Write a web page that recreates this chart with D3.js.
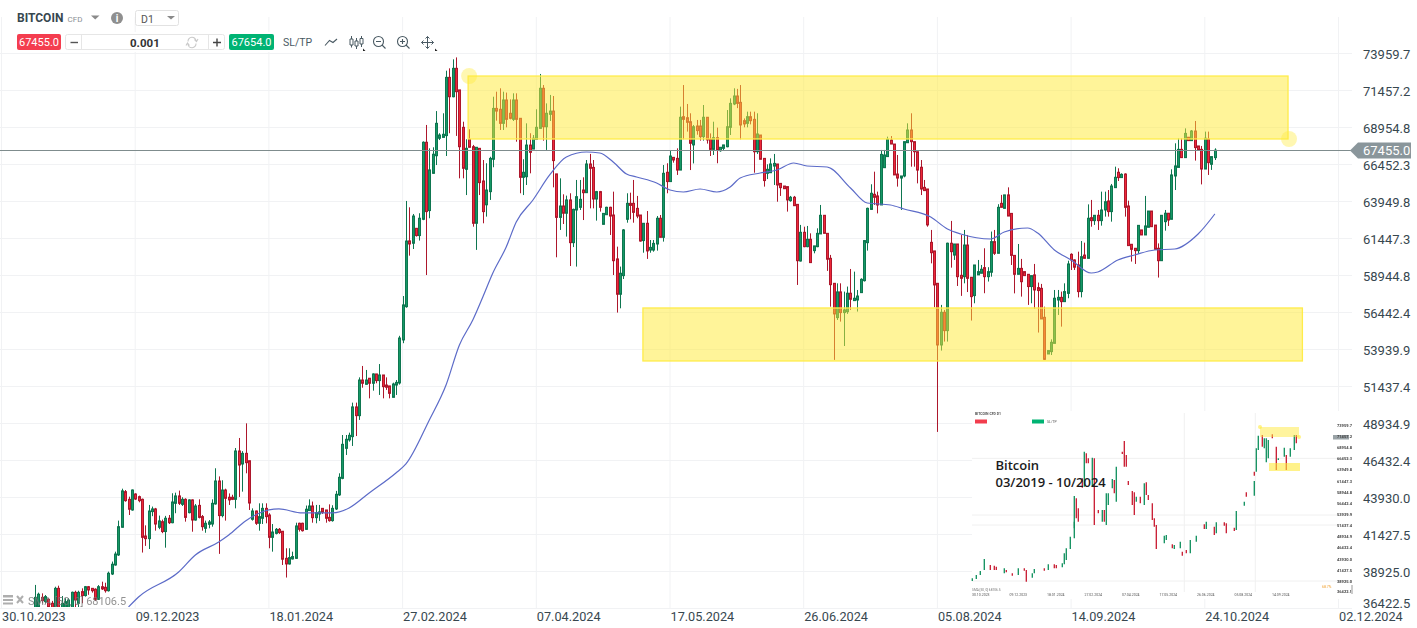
<!DOCTYPE html>
<html>
<head>
<meta charset="utf-8">
<title>BITCOIN D1</title>
<script src="https://cdn.jsdelivr.net/npm/d3@7"></script>
<style>
  html, body { margin: 0; padding: 0; background: #fff; overflow: hidden; }
  svg { display: block; font-family: Roboto, sans-serif; }
  .axis text { font-family: Roboto, sans-serif; font-size: 13px; fill: #37474f; }
  .axis.dates text { font-size: 12.7px; }
  .axis path, .axis line { display: none; }
</style>
</head>
<body>
<div id="chart"></div>
<script>
// daily candles, first one sits on bar 10 (09.11.2023)
const firstBar = 10;
const opens = [
  36470,36540,37210,36920,37080,36810,36540,37820,36130,36360,
  36470,36470,37550,36810,37600,37330,37930,37820,37760,37080,
  37930,37890,37660,38790,39400,40080,41950,44360,43840,43120,
  44200,44020,43840,41360,41180,43010,43190,41950,42330,41660,
  42560,42260,43570,44070,43500,43840,42940,43800,42440,43430,
  42670,41880,42150,42170,43530,45080,42740,44470,43980,43980,
  43840,47110,46230,46950,46450,42490,43050,42220,42560,43230,
  42780,41270,41540,41810,41680,39850,39470,39810,39850,42220,
  42220,41810,43080,43390,42600,42850,43230,43120,42620,42400,
  43190,44140,45260,47290,47860,48080,50090,49500,51910,51620,
  52030,51690,52320,51870,52250,51570,51510,50740,51570,51710,
  54620,56870,61320,61160,62170,61680,62780,67990,63370,65890,
  67080,68260,68320,68440,72380,71070,72990,71530,69000,66160,
  68190,67690,62510,67580,65370,63760,64650,66840,70280,70220,
  69270,70850,69950,69540,70850,69610,65620,65660,67800,67530,
  68190,68930,71640,69040,69880,70100,65850,62910,63680,63190,
  64090,61200,63410,63590,64760,64580,66520,66290,64150,64650,
  62440,63090,63590,63070,60100,57710,58970,62780,63860,63860,
  63520,63070,61340,62510,60700,60700,61110,62850,61560,65960,
  65330,66970,66900,66110,69720,69650,69380,67810,69090,69090,
  68370,69680,68190,67510,68300,67420,67580,67690,69000,70580,
  71120,70690,69450,69270,69720,69540,67350,68480,66900,65890,
  65930,66380,66520,65210,65030,64990,64040,64270,63790,59960,
  61900,60930,61430,60660,60930,61790,63050,61830,60140,58450,
  56130,57870,56470,56530,57780,57280,57320,57820,58630,61200,
  63450,64470,64360,63750,66270,67020,68140,67870,65840,65570,
  65710,67960,68820,68030,67350,66300,64940,64830,61220,60640,
  58450,54280,56490,55250,61160,60360,61110,58990,58900,61040,
  58860,57620,59020,59130,59510,58900,59200,61270,60480,63860,
  63520,64430,63180,60340,59060,59460,59240,59060,58230,59020,
  58160,58110,56150,53670,53830,54390,57320,57500,57210,57770,
  60410,60030,59690,57890,60360,60140,62890,62690,63050,62690,
  63410,64020,63300,64920,65960,65600,65840,63680,61090,60820,
  60660,62060,61720,62240,63340,62390,60820,59980,62620,63190,
  62780,65710,66290,67510,66950,68330,68100,68750,67740,67510,
  66180,68210,66500,66950
];
const closes = [
  37210,37420,36990,37260,36540,36130,37820,36130,36810,36920,
  37030,37550,37030,37550,37330,37930,37710,37660,37080,37930,
  37780,37660,38840,39450,40140,41990,44410,43750,43170,44470,
  43860,43750,41270,41180,43050,43190,42170,42380,41660,42560,
  42260,43660,44070,43570,43840,42620,43800,42440,43390,42620,
  41990,42220,42310,43570,45080,42740,44470,43910,43800,43840,
  47110,46160,46950,46320,43590,43050,42220,42670,43230,42670,
  41270,41630,41810,41590,39790,39470,39900,39970,42040,41810,
  41720,43170,43390,42600,42940,42990,42960,42560,42400,43230,
  44180,45330,47560,47900,48170,50090,49500,51910,51690,51910,
  51690,52320,51870,52250,51460,51420,51010,51640,51750,54750,
  56990,61310,61110,63000,61680,62850,67990,63300,66120,67180,
  69270,68480,68530,72380,71070,72990,71410,67690,66230,67580,
  67650,62510,67650,65260,63300,64760,66900,70280,70100,69270,
  70850,69540,69610,70850,69540,65620,65960,67800,67310,68260,
  69000,71640,69040,69950,70100,66750,62910,63680,63190,64090,
  61200,63450,64310,64130,64580,66520,66230,64150,64650,63590,
  63180,63590,63000,59980,57710,59130,62060,63860,63720,63250,
  63000,61310,62510,60640,60880,61150,62850,61560,65890,65330,
  67060,66790,66110,69680,69540,69340,67920,69040,68780,68370,
  69680,68150,67510,68300,67470,67650,67810,69040,70620,71120,
  70620,69160,69230,69720,69450,67350,68550,66840,65400,66160,
  66520,66560,65100,64920,64850,64090,64270,63700,59980,61900,
  60930,61430,59850,60980,61830,63050,61830,60080,58360,56380,
  57870,56470,56650,57780,57370,57440,57590,58720,61340,63520,
  64540,64270,63750,67170,67130,68190,67870,65780,65570,65710,
  68030,68820,68030,67350,66110,64830,64720,62400,60520,58340,
  54280,56490,55250,61160,60590,61110,58900,58790,61040,58790,
  57550,59690,59240,59400,58900,59240,61270,60480,63590,63590,
  64430,63000,60340,59060,59460,58560,58970,58230,58970,58000,
  57960,56040,53310,53900,54460,57440,57500,57210,57890,59760,
  60030,59540,57890,60250,60140,62850,62690,63050,62690,63410,
  63970,63300,65030,65620,65600,65820,63590,61000,60750,60660,
  62370,61720,62330,63340,62280,60750,59980,63050,63190,62730,
  65780,66390,67510,66950,68590,68100,68750,67630,67470,66180,
  68260,66610,67020,67455
];
const highs = [
  38050,37530,37480,37370,37150,36970,37930,38000,37300,37150,
  37150,37600,37660,37660,37820,37980,37980,37820,37820,38040,
  38270,38200,38950,39630,40300,42400,44560,44470,44020,44510,
  44250,44090,43890,42080,43460,43350,43260,42740,42470,42720,
  42780,44250,44290,44430,43980,43910,43840,43840,43520,43840,
  42780,42400,42440,43840,45940,45390,45130,44560,44240,44150,
  47310,47990,47100,48980,46450,43230,43080,43570,43570,43570,
  42900,42170,41900,41900,41700,40530,40530,40300,42260,42260,
  42260,43420,43840,43690,43460,43460,43240,43120,43500,43440,
  44410,45600,48190,48190,48350,50380,50380,52090,52860,52590,
  52030,52360,52320,52990,52250,52090,51510,51730,51910,54900,
  57590,64020,63590,63140,62170,63190,68050,69160,67580,67650,
  70100,68600,69950,72830,72990,73600,73730,71530,69380,68190,
  68870,67810,67650,67580,66790,66570,67010,71070,71410,71640,
  71410,71350,70890,71300,71300,69610,66840,69270,68600,68480,
  70220,72610,71860,70620,71190,71120,65850,65550,64470,64380,
  64540,63500,65440,65440,65620,66790,67200,66790,64700,64700,
  63180,63630,63630,64650,60930,59580,62120,64540,64580,65440,
  64360,63070,62510,63340,61380,61380,63000,63070,66450,66570,
  67420,66970,67580,70400,71860,70580,69950,69160,69500,69500,
  70510,69680,68590,69380,68980,67650,67810,70170,70960,71640,
  71600,71860,69600,70060,70060,70060,69950,68480,66900,66500,
  66900,67200,66520,65210,65030,64990,64360,64360,63790,62400,
  62280,62330,61830,60980,62170,63750,63050,61830,60370,58450,
  58450,58450,57890,58230,59420,59240,58000,58790,61380,63570,
  65150,66000,64650,67470,67470,68370,68410,67870,67130,65710,
  68030,69270,69950,68030,67350,66790,65440,64830,62060,60640,
  58450,56990,56650,61200,62670,61110,61110,61720,62060,61720,
  58860,59690,60030,59690,60820,59540,61950,62060,63800,64430,
  64430,64940,63180,60340,61110,60100,59240,59060,58970,59760,
  58500,58410,56870,53900,54660,58000,58000,57890,58450,59980,
  60480,60070,60590,61310,61200,63790,64090,63050,63410,64650,
  64650,64760,65170,66340,66230,65890,65890,64040,61090,60820,
  62370,62060,64360,63340,63340,62390,61150,63050,63410,63190,
  66160,67920,68260,68260,68930,68330,68820,69430,67740,67740,
  68710,68710,67020,67580
];
const lows = [
  36300,36400,36800,36800,36100,35900,36000,35900,35900,35900,
  36000,36000,36470,36400,36810,37260,37380,37530,36960,37030,
  37710,37530,37600,38720,39350,40010,41930,43680,42780,43070,
  43800,43640,40240,40690,40480,42700,41720,41820,41550,40570,
  42170,42220,42900,43460,43390,42330,42890,41650,42400,42550,
  41720,41580,41880,41990,43480,40150,42620,42400,43460,43790,
  43230,44000,44360,45600,43120,42400,42110,41720,42170,42220,
  40530,40300,41470,41500,39400,38550,39430,39770,39810,41660,
  41660,41770,43060,42260,42220,42380,42850,42260,42330,42330,
  43120,44070,45200,46840,47740,47450,48120,49210,51390,51600,
  50670,51190,51690,50900,50670,51240,50670,50740,50900,51600,
  54400,56800,60320,60770,61610,61340,62720,59010,62850,65870,
  66450,68140,68320,67060,68600,71030,68420,65550,65550,64420,
  67650,62280,60710,64420,62510,62960,64090,66300,69450,68820,
  68820,69000,69540,69430,68030,64540,64420,65100,65890,67530,
  68190,68930,68100,67470,69430,64940,60210,62060,62460,61610,
  59620,60900,59580,63410,62730,64580,63520,63520,62690,63300,
  62440,63090,61720,59010,56470,56760,58740,62550,62780,62550,
  62850,61270,60520,60100,60520,60590,60660,61560,61270,64540,
  65330,66610,65780,66110,68190,68710,66110,66560,68500,68100,
  68100,67900,67060,67130,66570,67350,67420,67650,68480,70500,
  70300,68190,69000,69000,69200,65930,67200,66840,64990,65500,
  65930,65100,63970,64360,64850,63300,63970,63700,58340,59920,
  60890,60890,59850,60480,60890,61790,61830,59290,56870,53270,
  55970,55860,54210,56380,56650,57280,56540,57820,58570,60660,
  63410,63750,63180,63750,66270,67020,67870,65780,64990,63410,
  65620,67960,66340,66340,65210,64420,64720,62280,59800,56830,
  48400,53900,54510,54510,59510,60030,58270,57600,58450,57860,
  55930,57100,59020,59130,57780,58570,58900,60370,60480,63590,
  63520,63000,59690,57770,59060,57550,58970,56990,57100,56720,
  55120,56040,53270,53670,53600,54390,56310,55520,57210,57440,
  59350,59350,57500,57500,60140,60140,62280,62400,62060,62350,
  62960,62960,62620,64920,65370,65600,62960,61000,59920,59760,
  60440,61720,61720,62240,62280,60750,58840,59980,62010,62330,
  62780,64760,66290,66950,66950,68100,68100,66750,67470,65140,
  66180,65780,66120,66790
];

const smaBars = [38,41,53,58,65,68,73,80,83,90,99,104,110,118,121,128,133,137,141,144,147,151,154,159,164,169,175,179,183,187,190,196,200,204,209,214,218,221,227,232,237,241,247,254,259,266,270,278,283,287,296,300,307,310,315,320,326,328,334,339,345,351,358,363];
const smaValues = [36561,37237,38928,40077,40957,41430,42377,43121,43188,42918,42918,43256,44270,45623,46232,49207,51574,54280,55970,57526,59149,60907,62598,64086,65777,66994,67332,67265,66656,65844,65642,65236,64762,64627,64830,64627,64965,65574,65912,66115,66588,66385,66318,64898,63883,63748,63477,62936,62125,61787,61448,61922,62192,61854,60705,60028,59149,59217,60028,60366,60705,60772,61787,63139];

const priceTicks = [73959.7,71457.2,68954.8,66452.3,63949.8,61447.3,58944.8,56442.4,53939.9,51437.4,48934.9,46432.4,43930.0,41427.5,38925.0,36422.5];
const dateBars = [0,40,80,120,160,200,240,280,320,360,400];
const dateLabels = ["30.10.2023","09.12.2023","18.01.2024","27.02.2024","07.04.2024","17.05.2024","26.06.2024","05.08.2024","14.09.2024","24.10.2024","02.12.2024"];

const lastPrice = 67455.0;
const bidPrice = "67455.0";
const askPrice = "67654.0";
const zoneTop = {from: 139.6, to: 384.9, high: 72470, low: 68212};
const zoneBottom = {from: 191.9, to: 389.2, high: 56782, low: 53198};

// the pasted small chart: bars and levels in its own units
const insetBars = [0,2,4,6,9,11,12,16,17,20,23,26,27,30,31,36,38,41,42,45,46,47,49,51,51,52,53,55,56,57,58,60,61,63,65,66,67,68,70,71,72,75,76,77,78,80,81,82,84,86,87,88,90,91,92,96,97,100,101,104,105,107,109,112,116,117,121,122,126,127,131,132,136,137,141,141,142,143,145,146,147,148,150,152,153,156,157,159,161,162];
const insetHigh = [80,90,102,138,120,118,115,110,105,95,110,110,105,95,108,110,122,122,120,125,155,170,205,250,327,320,290,380,460,455,440,442,440,285,285,285,335,335,378,375,415,460,492,450,372,342,338,325,325,365,368,330,305,260,240,208,210,182,180,190,160,165,195,208,242,250,235,248,248,245,232,282,310,338,372,400,470,508,510,500,500,495,512,475,440,472,450,470,510,510];
const insetLow = [72,78,90,105,105,105,105,95,98,88,90,103,70,82,95,103,105,110,110,113,122,135,168,200,230,260,250,352,355,425,425,355,240,275,250,250,240,300,350,335,310,453,415,415,360,300,270,310,305,300,330,315,255,235,168,185,195,170,168,170,148,155,155,190,228,228,210,215,238,215,222,225,298,325,328,388,400,465,475,470,428,440,500,405,435,445,405,445,465,485];
const insetUp = [1,1,1,1,0,0,0,1,0,0,1,0,0,1,1,0,1,0,0,1,1,1,1,1,1,0,0,0,1,0,0,1,0,0,1,0,1,1,1,0,1,0,0,0,0,0,0,1,0,1,0,0,0,0,0,1,1,0,1,1,0,0,1,1,0,1,0,1,0,0,0,1,1,0,1,0,1,1,0,1,1,1,0,0,1,1,0,1,1,0];
const insetGridLevels = [440,270,240,72];
const insetGridBars = [106,141.5];
const insetLabelLevels = [540,505,473,440,407,372,338,305,273,240,207,173,138,104,72,40];
const insetDates = ["30.10.2023","09.12.2023","18.01.2024","27.02.2024","07.04.2024","17.05.2024","26.06.2024","05.08.2024","14.09.2024"];

const width = 1417, height = 628;
const x = d3.scaleLinear().domain([0, 400]).range([1.5, 1338.5]);
const y = d3.scaleLinear().domain([36422.5, 73959.7]).range([609, 54]);
const gridY = v => Math.round(y(v)) - 0.5;

const svg = d3.select("#chart").append("svg")
    .attr("width", width)
    .attr("height", height);

svg.append("defs").append("clipPath").attr("id", "plot")
    .append("rect").attr("x", 0).attr("y", 0).attr("width", 1352).attr("height", 607);
const soft = svg.select("defs").append("filter").attr("id", "soft");
soft.append("feGaussianBlur").attr("stdDeviation", 0.35);

// grid
const grid = svg.append("g").attr("stroke", "#f1f2f4").attr("stroke-width", 1);
grid.selectAll(".h").data(priceTicks).join("line")
    .attr("x1", 0).attr("x2", 1352)
    .attr("y1", gridY).attr("y2", gridY);
grid.selectAll(".v").data(dateBars).join("line")
    .attr("x1", d => x(d)).attr("x2", d => x(d))
    .attr("y1", 17).attr("y2", 608);

// candles
const candles = opens.map((o, i) => ({bar: firstBar + i, o: o, c: closes[i], h: highs[i], l: lows[i]}));
const plot = svg.append("g").attr("clip-path", "url(#plot)");
const candle = plot.selectAll(".candle").data(candles).join("g").attr("class", "candle");
const edgeColor = d => d.c >= d.o ? "#0e7650" : "#ad172c";
candle.append("line")
    .attr("x1", d => Math.round(x(d.bar)) + 0.5)
    .attr("x2", d => Math.round(x(d.bar)) + 0.5)
    .attr("y1", d => y(d.h))
    .attr("y2", d => y(d.l))
    .attr("stroke", edgeColor);
candle.append("rect")
    .attr("x", d => Math.round(x(d.bar)) - 0.5)
    .attr("width", 2)
    .attr("y", d => y(Math.max(d.o, d.c)))
    .attr("height", d => Math.max(1, Math.abs(y(d.o) - y(d.c))))
    .attr("fill", d => d.c >= d.o ? "#169866" : "#ee2839")
    .attr("stroke", edgeColor);

// SMA
plot.append("path")
    .datum(smaBars.map((b, i) => [b, smaValues[i]]))
    .attr("fill", "none")
    .attr("stroke", "#5c6bc8")
    .attr("stroke-width", 1.2)
    .attr("d", d3.line().x(d => x(d[0])).y(d => y(d[1])).curve(d3.curveMonotoneX));

// support / resistance zones sit over the candles
[zoneTop, zoneBottom].forEach(z => {
    svg.append("rect")
        .attr("x", x(z.from)).attr("width", x(z.to) - x(z.from))
        .attr("y", y(z.high)).attr("height", y(z.low) - y(z.high))
        .attr("fill", "#ffea33").attr("fill-opacity", 0.5)
        .attr("stroke", "#ffec4a").attr("stroke-width", 1.3);
});
[[zoneTop.from, zoneTop.high], [zoneTop.to, zoneTop.low]].forEach(p => {
    svg.append("circle")
        .attr("cx", x(p[0]) + 1).attr("cy", y(p[1]))
        .attr("r", 8)
        .attr("fill", "#ffeb3b").attr("fill-opacity", 0.4);
});

// last price line
const lastY = Math.round(y(lastPrice)) + 0.5;
svg.append("line")
    .attr("x1", 0).attr("x2", 1352)
    .attr("y1", lastY).attr("y2", lastY)
    .attr("stroke", "#7f8c8d");

// axes
svg.append("g").attr("class", "axis")
    .attr("transform", "translate(1363,0)")
    .call(d3.axisRight(y).tickValues(priceTicks).tickSize(0).tickPadding(0).tickFormat(d => d.toFixed(1)))
    .selectAll(".tick")
    .attr("transform", d => "translate(0," + Math.min(y(d) + 1, 604) + ")");

svg.append("g").attr("class", "axis dates")
    .attr("transform", "translate(0,609)")
    .call(d3.axisBottom(x).tickValues(dateBars).tickSize(0).tickPadding(3).tickFormat((d, i) => dateLabels[i]))
    .selectAll("text")
    .attr("text-anchor", "start");

svg.append("path")
    .attr("d", "M1350," + lastY + "L1358," + (lastY - 8) + "H1411V" + (lastY + 8) + "H1358Z")
    .attr("fill", "#8a969b");
svg.append("text").attr("x", 1363).attr("y", lastY + 4.5)
    .attr("fill", "#fff").attr("font-size", 13).text(lastPrice.toFixed(1));

// small pasted chart
const inset = svg.append("g");
inset.append("rect").attr("x", 972).attr("y", 411).attr("width", 381).attr("height", 188).attr("fill", "#fff");
const ix = d3.scaleLinear().domain([0, 161]).range([972.3, 1294.3]);
const iy = d3.scaleLinear().domain([0, 600]).range([605, 405]);
const insetG = inset.append("g").attr("filter", "url(#soft)");
insetG.selectAll(".ig").data(insetGridLevels).join("line")
    .attr("x1", 972).attr("x2", 1352).attr("y1", d => iy(d)).attr("y2", d => iy(d))
    .attr("stroke", "#f0f0f0");
insetG.selectAll(".iv").data(insetGridBars).join("line")
    .attr("x1", d => ix(d)).attr("x2", d => ix(d)).attr("y1", 413).attr("y2", 592)
    .attr("stroke", "#f0f0f0");
insetG.selectAll(".ib").data(insetBars).join("line")
    .attr("x1", d => ix(d)).attr("x2", d => ix(d))
    .attr("y1", (d, i) => iy(insetHigh[i]))
    .attr("y2", (d, i) => iy(insetLow[i]))
    .attr("stroke", (d, i) => insetUp[i] ? "#0f8f5c" : "#c8192f")
    .attr("stroke-width", 1.3);
insetG.append("rect").attr("x", 1260).attr("y", 427).attr("width", 39).attr("height", 10)
    .attr("fill", "#ffe93b").attr("fill-opacity", 0.5);
insetG.append("rect").attr("x", 1269).attr("y", 463).attr("width", 31).attr("height", 8)
    .attr("fill", "#ffe93b").attr("fill-opacity", 0.6);
insetG.append("circle").attr("cx", 1260).attr("cy", 427).attr("r", 2).attr("fill", "#ffeb3b").attr("fill-opacity", 0.6);
insetG.append("circle").attr("cx", 1299).attr("cy", 437).attr("r", 2).attr("fill", "#ffeb3b").attr("fill-opacity", 0.6);
// tiny toolbar of the pasted picture
insetG.append("text").attr("x", 975).attr("y", 415).attr("font-size", 3.5).attr("font-weight", 700).attr("fill", "#555").text("BITCOIN CFD   D1");
insetG.append("rect").attr("x", 975).attr("y", 419.5).attr("width", 12).attr("height", 4).attr("fill", "#f23c4e");
insetG.append("rect").attr("x", 1032).attr("y", 419.5).attr("width", 12).attr("height", 4).attr("fill", "#00b373");
insetG.append("text").attr("x", 1047).attr("y", 423).attr("font-size", 3.5).attr("fill", "#555").text("SL/TP");
insetG.append("rect").attr("x", 1333).attr("y", 435).attr("width", 16).attr("height", 4.5).attr("fill", "#9aa3a7");
insetG.selectAll(".il").data(insetLabelLevels).join("text")
    .attr("x", 1337).attr("y", d => iy(d) + 1.5)
    .attr("font-size", 4).attr("font-weight", 700).attr("fill", "#444")
    .text((d, i) => priceTicks[i].toFixed(1));
insetG.selectAll(".id").data(insetDates).join("text")
    .attr("x", (d, i) => 972 + i * 37.5).attr("y", 596)
    .attr("font-size", 3.5).attr("fill", "#555").text(d => d);
insetG.append("text").attr("x", 972).attr("y", 591).attr("font-size", 3.2).attr("fill", "#777").text("SMA [50, 0] 68106.5");
insetG.append("text").attr("x", 1322).attr("y", 588).attr("font-size", 3.5).attr("fill", "#f0a030").text("68.7%");
insetG.append("rect").attr("x", 1351).attr("y", 585).attr("width", 2).attr("height", 9).attr("fill", "#ccc");

inset.append("text").attr("x", 995.5).attr("y", 470)
    .attr("font-family", "'Open Sans', sans-serif").attr("font-size", 13).attr("font-weight", 600).attr("fill", "#1c1c1c")
    .text("Bitcoin");
inset.append("text").attr("x", 995.5).attr("y", 486.5)
    .attr("font-family", "'Open Sans', sans-serif").attr("font-size", 13).attr("font-weight", 600).attr("fill", "#1c1c1c")
    .text("03/2019 - 10/2024");

// toolbar
const bar = svg.append("g");
bar.append("rect").attr("x", 14).attr("y", 32).attr("width", 425).attr("height", 20).attr("fill", "#fff");
bar.append("text").attr("x", 17).attr("y", 22).attr("font-size", 12).attr("font-weight", 700).attr("fill", "#37474f").text("BITCOIN");
bar.append("text").attr("x", 67.5).attr("y", 21.5).attr("font-size", 8).attr("fill", "#8a8f94").text("CFD");
bar.append("path").attr("d", "M91,15.5H99.5L95.2,19.5Z").attr("fill", "#8a8a8a");
bar.append("circle").attr("cx", 117).attr("cy", 18).attr("r", 6).attr("fill", "#8f8f8f");
bar.append("text").attr("x", 117).attr("y", 21.5).attr("text-anchor", "middle").attr("font-size", 10).attr("font-weight", 700).attr("fill", "#fff").text("i");
bar.append("rect").attr("x", 135.5).attr("y", 10.5).attr("width", 43).attr("height", 15).attr("rx", 2).attr("fill", "#fff").attr("stroke", "#e2e2e2");
bar.append("text").attr("x", 141).attr("y", 22.5).attr("font-size", 10.5).attr("fill", "#555").text("D1");
bar.append("path").attr("d", "M167,16H175L171,19.5Z").attr("fill", "#8a8a8a");

bar.append("rect").attr("x", 17).attr("y", 34).attr("width", 44).attr("height", 16).attr("rx", 2).attr("fill", "#f43d4f");
bar.append("text").attr("x", 39).attr("y", 46).attr("text-anchor", "middle").attr("font-size", 11).attr("fill", "#fff").text(bidPrice);
bar.append("rect").attr("x", 65.5).attr("y", 34.5).attr("width", 159).attr("height", 15).attr("rx", 2).attr("fill", "#fff").attr("stroke", "#e6e6e6");
bar.append("line").attr("x1", 81.5).attr("x2", 81.5).attr("y1", 35).attr("y2", 49).attr("stroke", "#e6e6e6");
bar.append("line").attr("x1", 208.5).attr("x2", 208.5).attr("y1", 35).attr("y2", 49).attr("stroke", "#e6e6e6");
bar.append("path").attr("d", "M70.5,42.5H78").attr("stroke", "#555").attr("stroke-width", 1.4);
bar.append("path").attr("d", "M213,42.5H221M217,38.5V46.5").attr("stroke", "#444").attr("stroke-width", 1.4);
bar.append("text").attr("x", 130).attr("y", 46.5).attr("font-size", 11.5).attr("font-weight", 700).attr("fill", "#333").text("0.001");
bar.append("path").attr("d", "M188,41.5A4,4 0 0 1 196,41M196,43.5A4,4 0 0 1 188,44M194.5,39.5L196.5,41.5L198,39M189.5,45.5L187.5,43L186,45.5")
    .attr("fill", "none").attr("stroke", "#c9c9c9").attr("stroke-width", 1.1);
bar.append("rect").attr("x", 229).attr("y", 34).attr("width", 45).attr("height", 16).attr("rx", 2).attr("fill", "#00b373");
bar.append("text").attr("x", 251.5).attr("y", 46).attr("text-anchor", "middle").attr("font-size", 11).attr("fill", "#fff").text(askPrice);
bar.append("text").attr("x", 283).attr("y", 46).attr("font-size", 10.5).attr("fill", "#4a5a63").text("SL/TP");

const ico = "#4a5a63";
bar.append("path").attr("d", "M325,45.5L329.5,40.5L333,42.5L337,39").attr("fill", "none").attr("stroke", ico).attr("stroke-width", 1.1);
bar.append("path").attr("d", "M351.5,36V47.5M356.5,38V49M361.5,36V47").attr("stroke", ico);
bar.append("path").attr("d", "M350,39H353V45H350ZM355,41H358V46H355ZM360,38.5H363V44H360Z").attr("fill", "#fff").attr("stroke", ico);
bar.append("path").attr("d", "M363,51V48.5L365.5,51Z").attr("fill", "#222");
bar.append("circle").attr("cx", 378.5).attr("cy", 41.5).attr("r", 5).attr("fill", "none").attr("stroke", ico).attr("stroke-width", 1.1);
bar.append("path").attr("d", "M376,41.5H381M382,45L385.5,48.5").attr("stroke", ico).attr("stroke-width", 1.1);
bar.append("circle").attr("cx", 402.5).attr("cy", 41.5).attr("r", 5).attr("fill", "none").attr("stroke", ico).attr("stroke-width", 1.1);
bar.append("path").attr("d", "M400,41.5H405M402.5,39V44M406,45L409.5,48.5").attr("stroke", ico).attr("stroke-width", 1.1);
bar.append("path").attr("d", "M421.5,42.5H433.5M427.5,36.5V48.5M425.5,38.5L427.5,36.5L429.5,38.5M425.5,46.5L427.5,48.5L429.5,46.5M423.5,40.5L421.5,42.5L423.5,44.5M431.5,40.5L433.5,42.5L431.5,44.5")
    .attr("fill", "none").attr("stroke", ico);
bar.append("path").attr("d", "M435,51V48.5L437.5,51Z").attr("fill", "#222");

// indicator legend, over the candles
const legend = svg.append("g").attr("opacity", 0.8);
legend.append("path").attr("d", "M3,595H13V597.5H3ZM3,599H13V601H3ZM3,602.5H13V604.5H3Z").attr("fill", "#9a9a9a");
legend.append("path").attr("d", "M17,596L23,603M23,596L17,603").attr("stroke", "#9a9a9a").attr("stroke-width", 2);
legend.append("text").attr("x", 28).attr("y", 605).attr("font-size", 11).attr("fill", "#777").text("SMA [50, 0] 68106.5");
</script>
</body>
</html>
